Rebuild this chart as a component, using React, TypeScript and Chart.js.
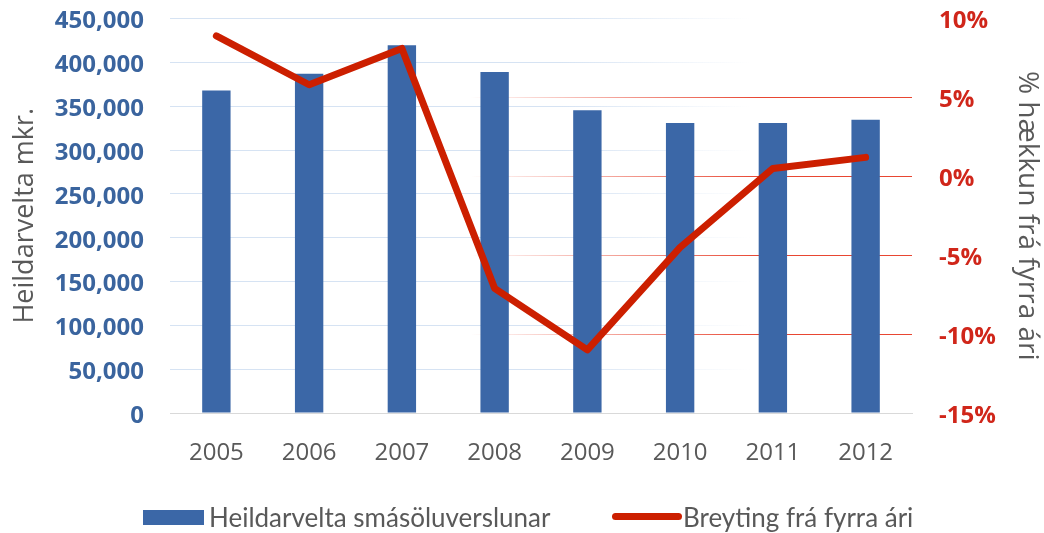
import React, { useEffect, useRef } from "react";
import { Chart, registerables } from "chart.js";
Chart.register(...registerables);

const years = ["2005", "2006", "2007", "2008", "2009", "2010", "2011", "2012"];
const turnover = [367800, 386900, 419500, 389100, 345300, 330900, 330900, 334600];
const changePct = [8.9, 5.8, 8.1, -7.1, -11.0, -4.5, 0.5, 1.2];
const barLabel = "Heildarvelta smásöluverslunar";
const lineLabel = "Breyting frá fyrra ári";
const leftTitle = "Heildarvelta mkr.";
const rightTitle = "% hækkun frá fyrra ári";

const BLUE = "#3b67a7";
const TICK_BLUE = "#3a649e";
const RED = "#cc1f00";
const TICK_RED = "#d0261a";
const GRAY = "#595959";
const FONT = "'Open Sans', sans-serif";
const LEG_FONT = "Lato, sans-serif";

const noPad = (s: any, w: number) => {
  s.width = w;
  s.paddingTop = 0;
  s.paddingBottom = 0;
};

export default function App() {
  const ref = useRef<HTMLCanvasElement | null>(null);
  useEffect(() => {
    if (!ref.current) return;
    const chart = new Chart(ref.current, {
      type: "bar",
      data: {
        labels: years,
        datasets: [
          {
            type: "line",
            label: lineLabel,
            data: changePct,
            yAxisID: "y1",
            borderColor: RED,
            backgroundColor: RED,
            borderWidth: 7,
            pointRadius: 0,
            pointHoverRadius: 0,
            borderCapStyle: "round",
            borderJoinStyle: "round",
            tension: 0,
            order: 0,
          } as any,
          {
            type: "bar",
            label: barLabel,
            data: turnover,
            yAxisID: "y",
            backgroundColor: BLUE,
            categoryPercentage: 1,
            barPercentage: 0.306,
            order: 1,
          },
        ],
      },
      options: {
        animation: false,
        responsive: true,
        maintainAspectRatio: false,
        layout: { autoPadding: false, padding: { top: 18.5, left: 0, right: 0, bottom: 0 } },
        plugins: { legend: { display: false }, tooltip: { enabled: false } },
        scales: {
          x: {
            grid: { display: false, drawTicks: false },
            border: { display: true, color: "#d9d9d9", width: 1 },
            ticks: { color: GRAY, font: { family: FONT, size: 24 }, padding: 26 },
            afterFit: (s: any) => { s.height = 120; s.paddingLeft = 0; s.paddingRight = 0; },
          },
          y: {
            position: "left",
            min: 0,
            max: 450000,
            ticks: {
              stepSize: 50000,
              color: TICK_BLUE,
              font: { family: FONT, size: 24, weight: "bold" },
              padding: 26,
              labelOffset: 3,
              callback: (v: any) => Number(v).toLocaleString("en-US"),
            },
            grid: {
              drawTicks: false,
              lineWidth: 1,
              color: (ctx: any) => {
                if (ctx.tick && ctx.tick.value === 0) return "#d9d9d9";
                const g = ctx.chart.ctx.createLinearGradient(560, 0, 750, 0);
                g.addColorStop(0, "rgba(214,227,243,1)");
                g.addColorStop(1, "rgba(214,227,243,0)");
                return g;
              },
            },
            border: { display: false },
            title: {
              display: true,
              text: leftTitle,
              color: GRAY,
              font: { family: FONT, size: 27 },
              padding: { top: 9, bottom: 0 },
            },
            afterFit: (s: any) => noPad(s, 170),
          },
          y1: {
            position: "right",
            min: -15,
            max: 10,
            ticks: {
              stepSize: 5,
              color: TICK_RED,
              font: { family: FONT, size: 24, weight: "bold" },
              padding: 27,
              labelOffset: 3,
              callback: (v: any) => v + "%",
            },
            grid: {
              drawTicks: false,
              lineWidth: 1,
              color: (ctx: any) => {
                const v = ctx.tick ? ctx.tick.value : 0;
                if (v === 10 || v === -15) return "rgba(0,0,0,0)";
                const g = ctx.chart.ctx.createLinearGradient(470, 0, 760, 0);
                g.addColorStop(0, "rgba(232,70,50,0)");
                g.addColorStop(1, "rgba(232,70,50,1)");
                return g;
              },
            },
            border: { display: false },
            title: {
              display: true,
              text: rightTitle,
              color: GRAY,
              font: { family: FONT, size: 28 },
              padding: { top: 0, bottom: 0 },
            },
            afterFit: (s: any) => noPad(s, 132),
          },
        },
      },
    });
    return () => chart.destroy();
  }, []);

  const textStyle: React.CSSProperties = {
    position: "absolute",
    fontFamily: LEG_FONT,
    fontSize: 26,
    color: GRAY,
    lineHeight: "28px",
    whiteSpace: "nowrap",
  };

  return (
    <div style={{ position: "absolute", left: 0, top: 0, width: 1044, height: 533, background: "#fff" }}>
      <canvas ref={ref} />
      <div style={{ position: "absolute", left: 143, top: 510, width: 61, height: 15, background: BLUE }} />
      <div style={{ ...textStyle, left: 209, top: 503 }}>{barLabel}</div>
      <div style={{ position: "absolute", left: 612, top: 513, width: 70, height: 7, borderRadius: 4, background: RED }} />
      <div style={{ ...textStyle, left: 683, top: 503 }}>{lineLabel}</div>
    </div>
  );
}
